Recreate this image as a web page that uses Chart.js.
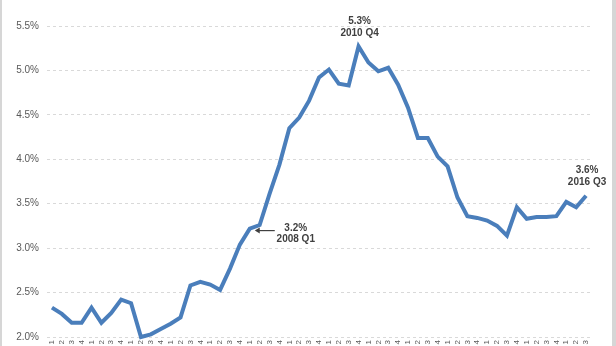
<!DOCTYPE html>
<html>
<head>
<meta charset="utf-8">
<script src="https://cdn.jsdelivr.net/npm/chart.js@4.4.0/dist/chart.umd.min.js"></script>
<style>
    html, body {
        margin: 0;
        padding: 0;
        background: #ffffff;
        overflow: hidden;
    }
    #wrap {
        position: relative;
        width: 616px;
        height: 346px;
        overflow: hidden;
    }
    #rateChart {
        display: block;
    }
    .edge {
        position: absolute;
        top: 0;
        height: 346px;
        background: #d6d6d6;
    }
    #edgeLeft { left: 0; width: 2px; }
    #edgeRight { right: 0; width: 4px; }
</style>
</head>
<body>
<div id="wrap">
    <canvas id="rateChart" width="616" height="351"></canvas>
    <div class="edge" id="edgeLeft"></div>
    <div class="edge" id="edgeRight"></div>
</div>
<script>
// quarters 2003 Q1 .. 2016 Q3
const quarterLabels = [
    "1", "2", "3", "4", "1", "2", "3", "4", "1", "2", "3", "4",
    "1", "2", "3", "4", "1", "2", "3", "4", "1", "2", "3", "4",
    "1", "2", "3", "4", "1", "2", "3", "4", "1", "2", "3", "4",
    "1", "2", "3", "4", "1", "2", "3", "4", "1", "2", "3", "4",
    "1", "2", "3", "4", "1", "2", "3"
];

const rateValues = [
    2.33, 2.26, 2.16, 2.16, 2.33, 2.16, 2.27, 2.42, 2.38, 2.00, 2.03, 2.09,
    2.15, 2.22, 2.58, 2.62, 2.59, 2.53, 2.77, 3.04, 3.22, 3.26, 3.61, 3.94,
    4.35, 4.47, 4.66, 4.92, 5.01, 4.85, 4.83, 5.27, 5.09, 4.99, 5.03, 4.84,
    4.58, 4.24, 4.24, 4.03, 3.92, 3.57, 3.36, 3.34, 3.31, 3.25, 3.14, 3.46,
    3.33, 3.35, 3.35, 3.36, 3.52, 3.46, 3.59
];

const yTicks = [2.0, 2.5, 3.0, 3.5, 4.0, 4.5, 5.0, 5.5];

// callouts: point index and text lines
const calloutIndex = [20, 31, 54];
const calloutText = [
    ["3.2%", "2008 Q1"],
    ["5.3%", "2010 Q4"],
    ["3.6%", "2016 Q3"]
];

const calloutPlugin = {
    id: "callouts",
    afterDatasetsDraw(chart) {
        const ctx = chart.ctx;
        const xs = chart.scales.x;
        const ys = chart.scales.y;
        ctx.save();
        ctx.fillStyle = "#404040";
        ctx.strokeStyle = "#404040";
        ctx.font = "bold 10px 'Liberation Sans', Arial, sans-serif";
        ctx.textAlign = "center";
        ctx.textBaseline = "middle";

        calloutIndex.forEach((idx, n) => {
            const px = xs.getPixelForValue(idx);
            const py = ys.getPixelForValue(rateValues[idx]);
            const lines = calloutText[n];

            if (n === 0) {
                // text to the right, arrow pointing back at the point
                ctx.fillText(lines[0], px + 46, py);
                ctx.fillText(lines[1], px + 46, py + 11);
                ctx.lineWidth = 1.2;
                ctx.beginPath();
                ctx.moveTo(px + 25, py + 2);
                ctx.lineTo(px + 7, py + 2);
                ctx.stroke();
                ctx.beginPath();
                ctx.moveTo(px + 5, py + 2);
                ctx.lineTo(px + 10, py - 1);
                ctx.lineTo(px + 10, py + 5);
                ctx.closePath();
                ctx.fill();
            } else {
                ctx.fillText(lines[0], px + 1, py - 25);
                ctx.fillText(lines[1], px + 1, py - 13);
            }
        });
        ctx.restore();
    }
};

new Chart(document.getElementById("rateChart"), {
    type: "line",
    data: {
        labels: quarterLabels,
        datasets: [{
            data: rateValues,
            borderColor: "#4a7ebb",
            borderWidth: 4,
            pointRadius: 0,
            tension: 0,
            fill: false,
            clip: false
        }]
    },
    options: {
        responsive: false,
        animation: false,
        layout: {
            padding: { top: 26, left: 0, right: 25, bottom: 0 }
        },
        plugins: {
            legend: { display: false },
            tooltip: { enabled: false }
        },
        scales: {
            x: {
                offset: true,
                grid: { display: false, drawTicks: false },
                border: { display: false },
                ticks: {
                    autoSkip: false,
                    minRotation: 90,
                    maxRotation: 90,
                    padding: 3,
                    color: "#595959",
                    font: { size: 8, family: "'Liberation Sans', Arial, sans-serif" }
                },
                afterFit(scale) {
                    scale.height = 10;
                }
            },
            y: {
                min: 2.0,
                max: 5.5,
                afterBuildTicks(scale) {
                    scale.ticks = yTicks.map((v) => ({ value: v }));
                },
                grid: {
                    color: "#d9d9d9",
                    lineWidth: 1,
                    drawTicks: false
                },
                border: { display: false, dash: [3, 3] },
                ticks: {
                    padding: 8,
                    color: "#595959",
                    font: { size: 10, family: "'Liberation Sans', Arial, sans-serif" },
                    callback: (v) => Number(v).toFixed(1) + "%"
                },
                afterFit(scale) {
                    scale.width = 47;
                }
            }
        }
    },
    plugins: [calloutPlugin]
});
</script>
</body>
</html>
